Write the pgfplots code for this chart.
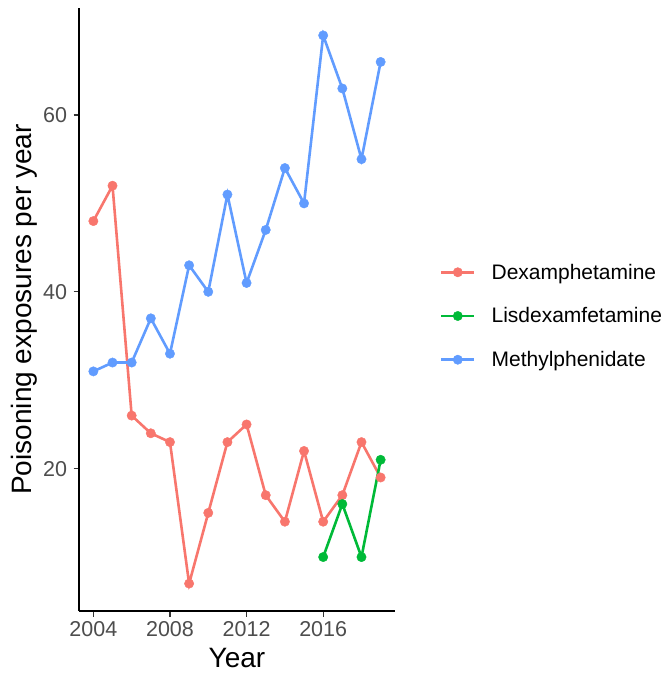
\documentclass[border=0pt]{standalone}
\usepackage{fontspec}
\setmainfont{Liberation Sans}
\usepackage{pgfplots}
\pgfplotsset{compat=1.18}
\definecolor{cDex}{HTML}{F8766D}
\definecolor{cLis}{HTML}{00BA38}
\definecolor{cMet}{HTML}{619CFF}
\definecolor{tickcol}{HTML}{333333}
\definecolor{labcol}{HTML}{4D4D4D}
\begin{document}
\begin{tikzpicture}
\begin{axis}[
  name=ax,
  scale only axis=true,
  width=316pt, height=603pt,
  xmin=2003.25, xmax=2019.75,
  ymin=3.9, ymax=72.1,
  axis x line*=bottom, axis y line*=left,
  axis line style={line width=1.8pt, black, -},
  xtick={2004,2008,2012,2016},
  ytick={20,40,60},
  tick align=outside,
  major tick length=5.5pt,
  tick style={line width=1.3pt, tickcol},
  /pgf/number format/assume math mode=true,
  /pgf/number format/1000 sep={},
  ticklabel style={font=\fontsize{21.5}{25}\selectfont, text=labcol},
  yticklabel style={xshift=-3pt},
  xticklabel style={yshift=-1pt},
  xlabel={Year},
  ylabel={Poisoning exposures per year},
  label style={font=\fontsize{28}{32}\selectfont},
  xlabel style={at={(axis description cs:0.5,0)}, anchor=center, yshift=-47pt},
  ylabel style={at={(axis description cs:0,0.5)}, anchor=center, yshift=55pt},
  legend style={at={(axis description cs:1,0.5)}, anchor=west, xshift=45pt, yshift=-6.5pt,
    draw=none, fill=none, inner sep=0pt, outer sep=0pt, row sep=23pt,
    font=\fontsize{21}{25}\selectfont, nodes={inner sep=2pt},
    /tikz/every odd column/.append style={column sep=14pt}},
  legend cell align=left,
  clip=false,
]
% lines
\addplot[cDex, line width=2.6pt, forget plot] coordinates {
(2004,48) (2005,52) (2006,26) (2007,24) (2008,23) (2009,7) (2010,15) (2011,23)
(2012,25) (2013,17) (2014,14) (2015,22) (2016,14) (2017,17) (2018,23) (2019,19)};
\addplot[cLis, line width=2.6pt, forget plot] coordinates {
(2016,10) (2017,16) (2018,10) (2019,21)};
\addplot[cMet, line width=2.6pt, forget plot] coordinates {
(2004,31) (2005,32) (2006,32) (2007,37) (2008,33) (2009,43) (2010,40) (2011,51)
(2012,41) (2013,47) (2014,54) (2015,50) (2016,69) (2017,63) (2018,55) (2019,66)};
% points
\pgfplotsset{mylegend/.style={legend image code/.code={
  \draw[line width=2.6pt] (0pt,0pt) -- (33pt,0pt);
  \fill (16.5pt,0pt) circle (4.7pt);}}}
\addplot[cDex, only marks, mark=*, mark size=4.7pt, mylegend] coordinates {
(2004,48) (2005,52) (2006,26) (2007,24) (2008,23) (2009,7) (2010,15) (2011,23)
(2012,25) (2013,17) (2014,14) (2015,22) (2016,14) (2017,17) (2018,23) (2019,19)};
\addlegendentry{Dexamphetamine}
\addplot[cLis, only marks, mark=*, mark size=4.7pt, mylegend] coordinates {
(2016,10) (2017,16) (2018,10) (2019,21)};
\addlegendentry{Lisdexamfetamine}
\addplot[cMet, only marks, mark=*, mark size=4.7pt, mylegend] coordinates {
(2004,31) (2005,32) (2006,32) (2007,37) (2008,33) (2009,43) (2010,40) (2011,51)
(2012,41) (2013,47) (2014,54) (2015,50) (2016,69) (2017,63) (2018,55) (2019,66)};
\addlegendentry{Methylphenidate}
\end{axis}
\pgfresetboundingbox
\path[use as bounding box] ([xshift=-79pt,yshift=-63pt]ax.south west) rectangle ([xshift=272pt,yshift=8pt]ax.north east);
\end{tikzpicture}
\end{document}
